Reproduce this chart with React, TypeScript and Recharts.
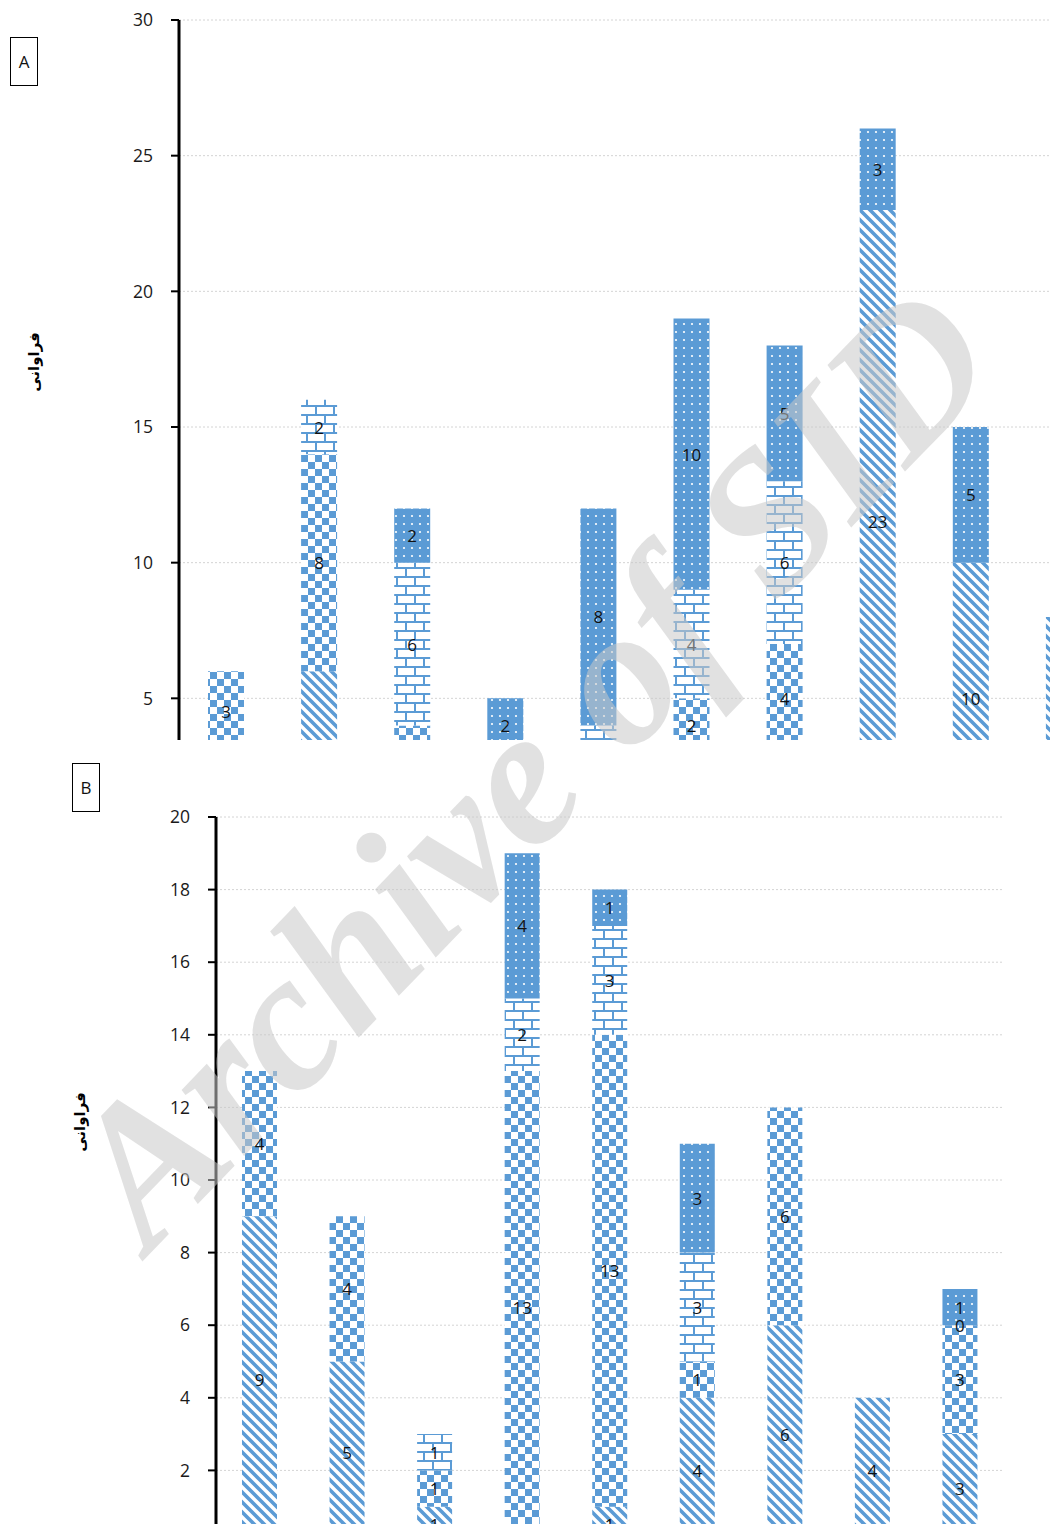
import React from "react";
import { Bar, BarChart, CartesianGrid, LabelList, XAxis, YAxis } from "recharts";

// ---- chart A (top) ----
const catsA = ["1", "2", "3", "4", "5", "6", "7", "8", "9", "10"];
const diagA = [3, 6, null, 3, null, 3, 3, 23, 10, 8];
const checkA = [3, 8, 4, null, null, 2, 4, null, null, null];
const brickA = [null, 2, 6, null, 4, 4, 6, null, null, null];
const dotsA = [null, null, 2, 2, 8, 10, 5, 3, 5, null];
const ticksA = [0, 5, 10, 15, 20, 25, 30];

// ---- chart B (bottom) ----
const catsB = ["1", "2", "3", "4", "5", "6", "7", "8", "9"];
const diagB = [9, 5, 1, null, 1, 4, 6, 4, 3];
const checkB = [4, 4, 1, 13, 13, 1, 6, null, 3];
const brickB = [null, null, 1, 2, 3, 3, null, null, 0];
const dotsB = [null, null, null, 4, 1, 3, null, null, 1];
const ticksB = [0, 2, 4, 6, 8, 10, 12, 14, 16, 18, 20];

const axisTitle = "فراوانی";
const BLUE = "#5b9bd5";
const FONT = "'Open Sans', 'Noto Sans', sans-serif";

function rows(cats: string[], d: (number | null)[], c: (number | null)[], b: (number | null)[], p: (number | null)[]) {
  return cats.map((name, i) => ({ name, diag: d[i], check: c[i], brick: b[i], dots: p[i] }));
}

function labelText(x: number, y: number, value: any) {
  return (
    <text x={x} y={y} textAnchor="middle" dominantBaseline="central" fill="#111" fontSize={17} fontFamily={FONT}>
      {value}
    </text>
  );
}

// value in the middle of its segment
function SegLabel(props: any) {
  const { x, y, width, height, value } = props;
  if (value === null || value === undefined || x == null || y == null) return null;
  return labelText(Number(x) + Number(width) / 2, Number(y) + Number(height || 0) / 2, value);
}

// zero-height brick segments get no rect, so their "0" is drawn at the foot of the dots segment above
function ZeroBelow(props: any) {
  const { x, y, width, height, value } = props;
  if (value !== 0 || x == null || y == null) return null;
  return labelText(Number(x) + Number(width) / 2, Number(y) + Number(height || 0), value);
}

function Patterns() {
  return (
    <svg width={0} height={0} style={{ position: "absolute" }}>
      <defs>
        <pattern id="pDiag" width={10} height={10} patternUnits="userSpaceOnUse">
          <rect width={10} height={10} fill="#fff" />
          <path d="M-2,-2 L12,12 M-2,8 L2,12 M8,-2 L12,2" stroke={BLUE} strokeWidth={3.6} />
        </pattern>
        <pattern id="pCheck" width={14} height={14} patternUnits="userSpaceOnUse">
          <rect width={14} height={14} fill="#fff" />
          <rect x={0} y={0} width={7} height={7} fill={BLUE} />
          <rect x={7} y={7} width={7} height={7} fill={BLUE} />
        </pattern>
        <pattern id="pBrick" width={18} height={18} patternUnits="userSpaceOnUse">
          <rect width={18} height={18} fill="#fff" />
          <path d="M0,1 H18 M0,10 H18 M1,1 V10 M10,10 V18" stroke={BLUE} strokeWidth={2} />
        </pattern>
        <pattern id="pDots" width={8} height={8} patternUnits="userSpaceOnUse">
          <rect width={8} height={8} fill={BLUE} />
          <circle cx={4} cy={4} r={1.1} fill="#fff" />
        </pattern>
      </defs>
    </svg>
  );
}

const series = [
  { key: "diag", fill: "url(#pDiag)" },
  { key: "check", fill: "url(#pCheck)" },
  { key: "brick", fill: "url(#pBrick)" },
  { key: "dots", fill: "url(#pDots)" },
];

type PanelProps = {
  data: any[];
  width: number;
  height: number;
  top: number;
  yWidth: number;
  max: number;
  ticks: number[];
  barSize: number;
};

function Panel({ data, width, height, top, yWidth, max, ticks, barSize }: PanelProps) {
  return (
    <BarChart width={width} height={height} data={data} margin={{ top, right: 0, left: 0, bottom: 0 }}>
      <CartesianGrid vertical={false} stroke="#d4d4d4" strokeDasharray="2 2" />
      <XAxis dataKey="name" hide />
      <YAxis
        domain={[0, max]}
        ticks={ticks}
        width={yWidth}
        tickSize={8}
        tickMargin={18}
        axisLine={{ stroke: "#000", strokeWidth: 3 }}
        tickLine={{ stroke: "#000", strokeWidth: 2 }}
        tick={{ fill: "#1a1a1a", fontSize: 17.5, fontFamily: FONT }}
      />
      {series.map((s) => (
        <Bar key={s.key} dataKey={s.key} stackId="a" fill={s.fill} barSize={barSize} isAnimationActive={false}>
          <LabelList dataKey={s.key} content={SegLabel} />
          {s.key === "dots" && <LabelList dataKey="brick" content={ZeroBelow} />}
        </Bar>
      ))}
    </BarChart>
  );
}

const boxStyle: React.CSSProperties = {
  position: "absolute",
  width: 26,
  height: 47,
  border: "1.5px solid #000",
  display: "flex",
  alignItems: "center",
  justifyContent: "center",
  fontSize: 17,
  fontFamily: FONT,
  color: "#111",
};

const titleStyle: React.CSSProperties = {
  position: "absolute",
  transform: "translate(-50%, -50%) rotate(-90deg)",
  fontFamily: "'DejaVu Sans', sans-serif",
  fontWeight: "bold",
  fontSize: 15,
  whiteSpace: "nowrap",
  color: "#000",
};

export default function App() {
  const dataA = rows(catsA, diagA, checkA, brickA, dotsA);
  const dataB = rows(catsB, diagB, checkB, brickB, dotsB);
  return (
    <div
      style={{
        position: "absolute",
        left: 0,
        top: 0,
        width: 1050,
        height: 1524,
        overflow: "hidden",
        background: "#fff",
        fontFamily: FONT,
      }}
    >
      <Patterns />
      <div style={{ position: "absolute", left: 0, top: 0, width: 1050, height: 740, overflow: "hidden" }}>
        <Panel data={dataA} width={1110} height={834} top={20} yWidth={179} max={30} ticks={ticksA} barSize={36} />
      </div>
      <div style={{ position: "absolute", left: 0, top: 740, width: 1050, height: 784, overflow: "hidden" }}>
        <Panel data={dataB} width={1004} height={803} top={77} yWidth={216} max={20} ticks={ticksB} barSize={35} />
      </div>
      <div style={{ ...boxStyle, left: 10, top: 37 }}>A</div>
      <div style={{ ...boxStyle, left: 72, top: 763 }}>B</div>
      <div style={{ ...titleStyle, left: 34, top: 362 }}>{axisTitle}</div>
      <div style={{ ...titleStyle, left: 80, top: 1122 }}>{axisTitle}</div>
      <div
        style={{
          position: "absolute",
          left: 530,
          top: 765,
          transform: "translate(-50%, -50%) rotate(-46deg)",
          fontFamily: "'Liberation Serif', 'DejaVu Serif', serif",
          fontWeight: "bold",
          fontStyle: "italic",
          fontSize: 198,
          color: "rgba(200,200,200,0.55)",
          whiteSpace: "nowrap",
          pointerEvents: "none",
          lineHeight: 1,
        }}
      >
        Archive of SID
      </div>
    </div>
  );
}
